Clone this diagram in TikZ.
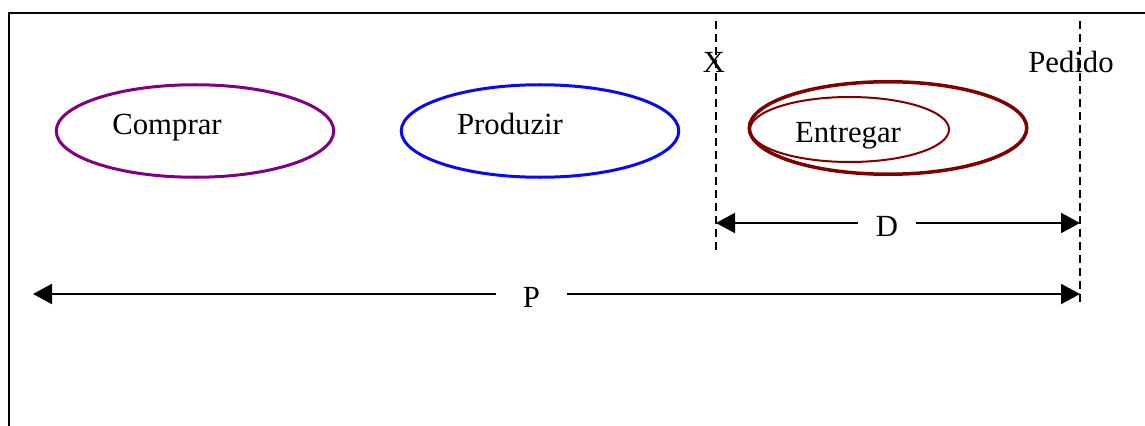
\documentclass[tikz,border=0pt]{standalone}
\usepackage{fontspec}
\setmainfont{Liberation Serif}
\usetikzlibrary{shapes.geometric,arrows.meta}

\definecolor{compracor}{RGB}{128,0,128}
\definecolor{producor}{RGB}{10,10,240}
\definecolor{entregacor}{RGB}{128,0,0}

\tikzset{
  etapa/.style={ellipse, draw, line width=1.2pt, inner sep=0pt, minimum width=111pt, minimum height=37pt},
  guia/.style={dash pattern=on 3.2pt off 2pt, line width=0.6pt},
  cota/.style={{Triangle[length=7.6pt,width=8pt]}-{Triangle[length=7.6pt,width=8pt]}, line width=0.8pt},
  rotulo/.style={fill=white, inner ysep=1pt, yshift=-1.2pt},
}

\begin{document}
\begin{tikzpicture}[x=0.4pt, y=-0.4pt, every node/.style={font=\fontsize{12.3}{14}\selectfont}]
            \useasboundingbox (0,0) rectangle (1145,426);
            % moldura
            \draw[line width=0.8pt] (9,426) -- (9,13) -- (1145,13);
            % etapas
            \node[etapa, draw=compracor] (comprar) at (195,131) {};
            \node[etapa, draw=producor] (produzir) at (540,131) {};
            \node[etapa, draw=entregacor, line width=1.4pt] (entregar) at (888,128) {};
            \node[etapa, draw=entregacor, line width=0.8pt, minimum width=79.6pt, minimum height=26pt] (entregin) at (849.5,129.5) {};
            \node[anchor=base] (tcomprar) at (167,135) {Comprar};
            \node[anchor=base] (tproduzir) at (510,135) {Produzir};
            \node[anchor=base] (tentregar) at (848,142) {Entregar};
            % linhas de referencia
            \coordinate (xtopo) at (716,21);
            \coordinate (xbase) at (716,253);
            \coordinate (ptopo) at (1080,21);
            \coordinate (pbase) at (1080,302);
            \draw[guia] (xtopo) -- (xbase);
            \draw[guia] (ptopo) -- (pbase);
            \node[anchor=base] (tx) at (714,73) {X};
            \node[anchor=base] (tpedido) at (1071,73) {Pedido};
            % cotas
            \coordinate (dini) at (716,223);
            \coordinate (dfim) at (1080,223);
            \coordinate (pini) at (33,294);
            \coordinate (pfim) at (1080,294);
            \draw[cota] (dini) -- (dfim) node[rotulo, pos=0.47, inner xsep=7.2pt] (td) {D};
            \draw[cota] (pini) -- (pfim) node[rotulo, pos=0.476, inner xsep=10.8pt] (tp) {P};
        \end{tikzpicture}
\end{document}
